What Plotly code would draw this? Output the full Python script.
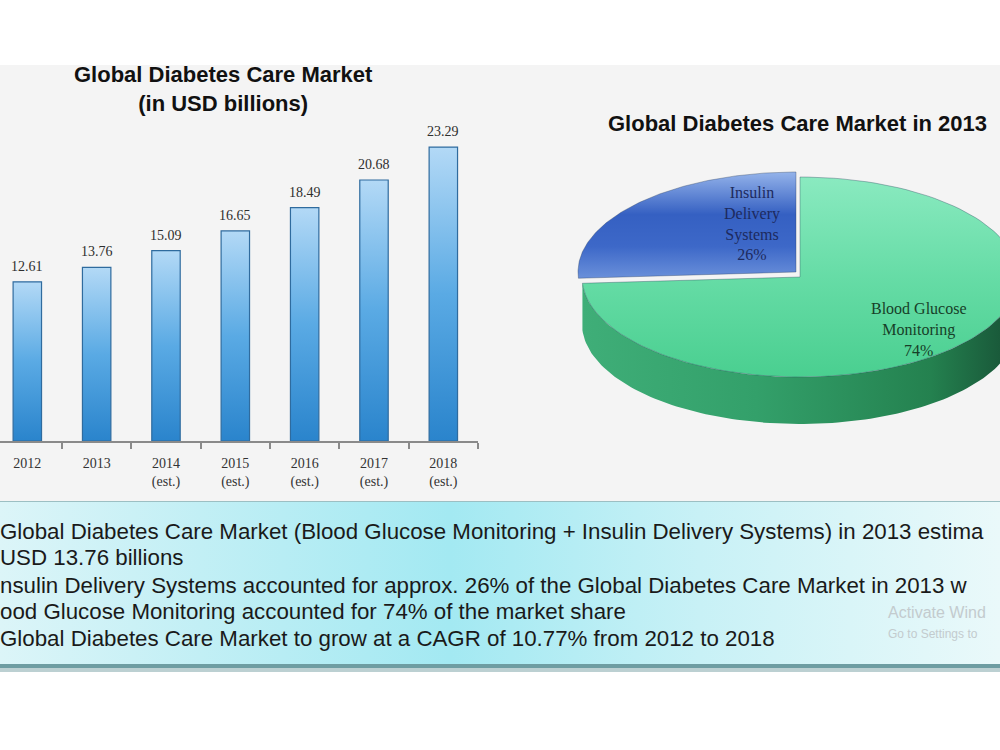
import numpy as np
import plotly.graph_objects as go

# ---------------- data ----------------
years = ["2012", "2013", "2014", "2015", "2016", "2017", "2018"]
year_notes = ["", "", "(est.)", "(est.)", "(est.)", "(est.)", "(est.)"]
market_values = [12.61, 13.76, 15.09, 16.65, 18.49, 20.68, 23.29]

pie_labels = ["Insulin<br>Delivery<br>Systems", "Blood Glucose<br>Monitoring"]
pie_shares = [26, 74]

bar_title = "Global Diabetes Care Market<br>(in USD billions)"
pie_title = "Global Diabetes Care Market in 2013"
# text as visible in the (cropped) slide
notes = [
    "Global Diabetes Care Market (Blood Glucose Monitoring + Insulin Delivery Systems) in 2013 estima",
    "USD 13.76 billions",
    "nsulin Delivery Systems accounted for approx. 26% of the Global Diabetes Care Market in 2013 w",
    "ood Glucose Monitoring accounted for 74% of the market share",
    "Global Diabetes Care Market to grow at a CAGR of 10.77% from 2012 to 2018",
]
watermark = ["Activate Wind", "Go to Settings to"]

# ---------------- helpers ----------------
W, H = 1000, 750


def px(p):
    return p / W


def py(p):  # pixel y -> paper y
    return 1 - p / H


SERIF = "Liberation Serif, DejaVu Serif, serif"
SANS = "Liberation Sans, Arial, sans-serif"

fig = go.Figure()

# ---------------- text box with horizontal gradient (x2/y2 pixel axes) ----------------
fig.add_trace(go.Scatter(
    x=[0, W, W, 0, 0], y=[502, 502, 664, 664, 502], xaxis="x2", yaxis="y2",
    mode="lines", line=dict(width=0), fill="toself",
    fillgradient=dict(type="horizontal", colorscale=[
        [0, "#dcf5f8"], [0.2, "#c2eff5"], [0.45, "#a3e9f2"], [0.7, "#c8f1f6"], [1, "#eaf9fa"]]),
    hoverinfo="skip", showlegend=False))

# ---------------- 3D-like elliptical pie on x2/y2 ----------------
cx, cy, rx, ry, depth = 800, 277, 218, 100, 47


def ell(t0, t1, n=120, dx=0.0, dy=0.0, off=0.0):
    t = np.radians(np.linspace(t0, t1, n))
    return cx + dx + rx * np.cos(t), cy + dy + off - ry * np.sin(t)


total = float(sum(pie_shares))
angles = []
a = 90.0
for s in pie_shares:
    span = 360.0 * s / total
    angles.append((a, a + span))
    a += span

explode = [(-4, -5), (0, 0)]
# colorscales run from screen-bottom (0) to screen-top (1)
top_scales = [
    [[0, "#6a90da"], [0.3, "#3d68c8"], [0.6, "#3560c2"], [1, "#94b3ea"]],
    [[0, "#4acf90"], [0.5, "#66dca6"], [1, "#8aeac0"]],
]
side_scales = [
    [[0, "#23449a"], [1, "#1c3a85"]],
    [[0, "#3fae78"], [0.4, "#33a06a"], [0.8, "#24814f"], [1, "#175035"]],
]

# front side walls (visible for angles 180..360)
for i, (t0, t1) in enumerate(angles):
    lo = max(t0, 180.0)
    hi = min(t1, 360.0)
    if hi <= lo:
        continue
    dx, dy = explode[i]
    xt, yt = ell(lo, hi, dx=dx, dy=dy)
    xb, yb = ell(lo, hi, dx=dx, dy=dy, off=depth)
    fig.add_trace(go.Scatter(
        x=np.concatenate([xt, xb[::-1], xt[:1]]), y=np.concatenate([yt, yb[::-1], yt[:1]]),
        xaxis="x2", yaxis="y2", mode="lines", line=dict(width=0), fill="toself",
        fillgradient=dict(type="horizontal", colorscale=side_scales[i]),
        hoverinfo="skip", showlegend=False))

# top faces
for i, (t0, t1) in enumerate(angles):
    dx, dy = explode[i]
    xa, ya = ell(t0, t1, dx=dx, dy=dy)
    fig.add_trace(go.Scatter(
        x=np.concatenate([[cx + dx], xa, [cx + dx]]), y=np.concatenate([[cy + dy], ya, [cy + dy]]),
        xaxis="x2", yaxis="y2", mode="lines",
        line=dict(width=1, color="rgba(40,60,90,0.35)"), fill="toself",
        fillgradient=dict(type="vertical", colorscale=top_scales[i]),
        hoverinfo="skip", showlegend=False))

# ---------------- bars (gradient filled) ----------------
bw = 0.205
for i, v in enumerate(market_values):
    fig.add_trace(go.Scatter(
        x=[i - bw, i - bw, i + bw, i + bw, i - bw], y=[0, v, v, 0, 0],
        mode="lines", line=dict(width=1.2, color="#2f6b9e"), fill="toself",
        fillgradient=dict(type="vertical", colorscale=[
            [0, "#2a84cc"], [0.5, "#5aaae4"], [1, "#b3d9f6"]]),
        hoverinfo="skip", showlegend=False))

annotations = []
for i, v in enumerate(market_values):
    annotations.append(dict(x=i, y=v, xref="x", yref="y", text=f"{v:.2f}", showarrow=False,
                            yanchor="bottom", yshift=6, font=dict(family=SERIF, size=14, color="#2e2e2e")))

ticktext = [y + ("<br>" + n if n else "") for y, n in zip(years, year_notes)]


def pann(x, y, text, size, color, family=SANS, xanchor="center", align="center", xshift=0):
    return dict(x=px(x), y=py(y), xref="paper", yref="paper", text=text, showarrow=False,
                xanchor=xanchor, yanchor="middle", align=align, xshift=xshift,
                font=dict(family=family, size=size, color=color))


# titles
annotations.append(pann(223, 89, f"<b>{bar_title}</b>", 22, "#111111"))
annotations.append(pann(797, 123, f"<b>{pie_title}</b>", 22, "#111111"))

# pie labels
pie_label_pos = [(752, 224), (919, 330)]
pie_label_col = ["#1d2a5e", "#173f28"]
for lab, s, (lx, ly), c in zip(pie_labels, pie_shares, pie_label_pos, pie_label_col):
    annotations.append(pann(lx, ly, f"{lab}<br>{s}%", 16, c, family=SERIF))

# notes text
note_y = [531, 557, 585, 611, 638]
for t, yy in zip(notes, note_y):
    annotations.append(pann(0, yy, t, 22.3, "#1a1a1a", xanchor="left", align="left", xshift=-2))

annotations.append(pann(886, 612, watermark[0], 16, "#c3cbce", xanchor="left", align="left"))
annotations.append(pann(886, 634, watermark[1], 12, "#c3cbce", xanchor="left", align="left"))

shapes = [
    dict(type="rect", xref="paper", yref="paper", x0=0, x1=1, y0=py(672), y1=py(65), fillcolor="#f4f4f4",
         line=dict(width=0), layer="below"),
    dict(type="line", xref="paper", yref="paper", x0=0, x1=1, y0=py(502), y1=py(502),
         line=dict(color="#9cbfc3", width=2), layer="below"),
    dict(type="rect", xref="paper", yref="paper", x0=0, x1=1, y0=py(668), y1=py(663), fillcolor="#6e9da2",
         line=dict(width=0), layer="below"),
    dict(type="rect", xref="paper", yref="paper", x0=0, x1=1, y0=py(672), y1=py(668), fillcolor="#bcd0d2",
         line=dict(width=0), layer="below"),
]

fig.update_layout(
    width=W, height=H, autosize=False,
    margin=dict(l=0, r=0, t=0, b=0, pad=0),
    paper_bgcolor="white", plot_bgcolor="rgba(0,0,0,0)",
    hovermode=False, showlegend=False,
    xaxis=dict(domain=[0, 0.478], range=[-0.394, 6.5], tickvals=list(range(len(years))), ticktext=ticktext,
               ticks="", showgrid=False, zeroline=False, showline=True, linecolor="#8a8a8a", linewidth=1.5,
               tickfont=dict(family=SERIF, size=14, color="#333333"), ticklabelstandoff=8,
               minor=dict(tickvals=[i + 0.5 for i in range(len(years))], ticks="outside", ticklen=6,
                          tickcolor="#8a8a8a", tickwidth=1.5, showgrid=False),
               fixedrange=True),
    yaxis=dict(domain=[py(441), py(120)], range=[0, (441 - 120) / 12.62], visible=False, fixedrange=True),
    xaxis2=dict(domain=[0, 1], range=[0, W], visible=False, anchor="y2", fixedrange=True),
    yaxis2=dict(domain=[0, 1], range=[H, 0], visible=False, anchor="x2", fixedrange=True),
    annotations=annotations, shapes=shapes,
)

fig.write_html("out.html")
